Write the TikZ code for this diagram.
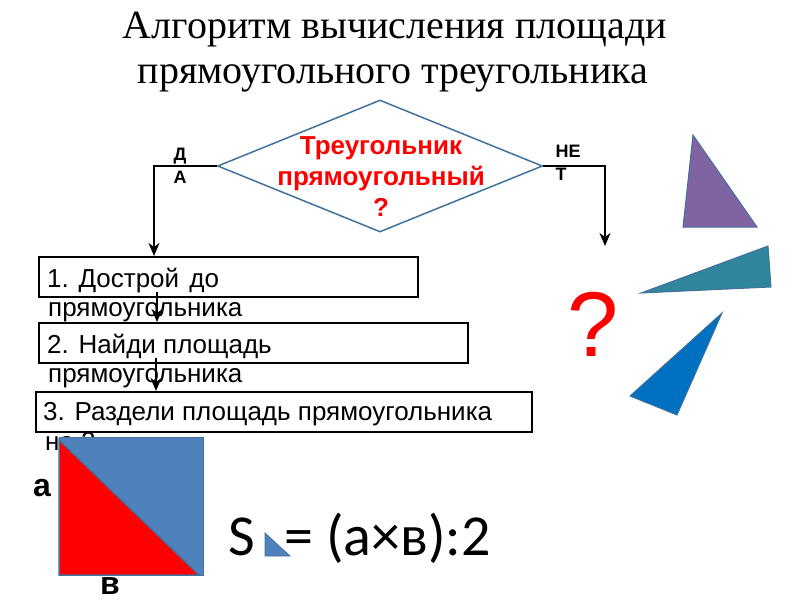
\documentclass[tikz,border=0pt]{standalone}
\usepackage{fontspec}
\setmainfont{Liberation Serif}
\newfontfamily\arialf{Liberation Sans}
\newfontfamily\calib{Carlito}
\usetikzlibrary{shapes.geometric,arrows.meta}
\definecolor{dborder}{RGB}{65,113,156}
\definecolor{sqblue}{RGB}{79,129,189}
\definecolor{tpurple}{RGB}{128,100,162}
\definecolor{tteal}{RGB}{49,133,156}
\definecolor{tblue}{RGB}{0,112,192}
\begin{document}
\begin{tikzpicture}[x=1pt,y=-1pt,
  arr/.style={line width=2pt,-{Stealth[length=13pt,width=11pt,inset=4pt]}},
  stepbox/.style={draw,line width=2pt,minimum height=40pt,inner sep=0pt},
  boxtxt/.style={font=\arialf\fontsize{26}{30}\selectfont,anchor=base west,inner sep=0pt},
  titletxt/.style={font=\fontsize{40}{45}\selectfont,anchor=base,inner sep=0pt},
  lbl/.style={font=\arialf\bfseries\fontsize{18}{23}\selectfont,align=center,inner sep=0pt},
  sidelbl/.style={font=\arialf\bfseries\fontsize{32}{36}\selectfont,anchor=base,inner sep=0pt},
  frm/.style={font=\calib\fontsize{58}{62}\selectfont,anchor=base west,inner sep=0pt},
  tri/.style={draw=dborder,line width=1pt}
]
\useasboundingbox (0,0) rectangle (800,600);
% title
\node[titletxt] (t1) at (395,38) {Алгоритм вычисления площади};
\node[titletxt] (t2) at (393,83) {прямоугольного треугольника};
% decision
\node[diamond,draw=dborder,line width=1.5pt,minimum width=325pt,minimum height=132pt,inner sep=0pt] (dec) at (380,166) {};
\node[font=\arialf\bfseries\fontsize{26}{31}\selectfont,text=red,align=center,inner sep=0pt] (q) at (381,177) {Треугольник\\прямоугольный\\?};
% boxes
\node[stepbox,minimum width=379pt] (box1) at (228.5,277) {};
\node[stepbox,minimum width=429pt] (box2) at (253.5,343) {};
\node[stepbox,minimum width=496pt] (box3) at (284,412) {};
\node[boxtxt] (b1a) at (47,287) {1. Дострой\hspace{3pt} до};
\node[boxtxt] (b1b) at (48,316) {прямоугольника};
\node[boxtxt] (b2a) at (47,353) {2. Найди площадь};
\node[boxtxt] (b2b) at (48,382) {прямоугольника};
\node[boxtxt] (b3a) at (43,420) {3. Раздели площадь прямоугольника};
\node[boxtxt] (b3b) at (45,450) {на 2};
% connectors
\draw[arr] (dec.west) -| ([xshift=116pt]box1.north west);
\coordinate (netend) at (605,246);
\draw[arr] (dec.east) -| (netend);
\draw[arr] ([xshift=119pt,yshift=6pt]box1.south west) -- ([xshift=119pt]box2.north west);
\draw[arr] ([xshift=118pt,yshift=6pt]box2.south west) -- ([xshift=121pt]box3.north west);
\node[lbl] (da) at (180,166) {Д\\А};
\node[lbl,align=left] (net) at (568,163) {НЕ\\Т};
% square
\fill[sqblue,draw=dborder,line width=1pt] (59,437) rectangle (203,575);
\filldraw[fill=red,draw=dborder,line width=1.5pt] (59,440) -- (59,575) -- (199,575) -- cycle;
\node[sidelbl] (la) at (42,496) {а};
\node[sidelbl] (lb) at (110,594) {в};
% formula
\node[frm] (fs) at (228,555) {S};
\filldraw[fill=sqblue,draw=dborder,line width=0.8pt] (265,533) -- (265,556) -- (290,556) -- cycle;
\node[frm] (fe) at (284,555) {= (а×в):2};
% question mark
\node[font=\arialf\fontsize{92}{96}\selectfont,text=red,inner sep=0pt] (qm) at (593,324) {?};
% triangles
\filldraw[fill=tpurple,tri] (693,135) -- (683,227) -- (757,227) -- cycle;
\filldraw[fill=tteal,tri] (641,293) -- (768,246) -- (771,287) -- cycle;
\filldraw[fill=tblue,tri] (722,313) -- (630,396) -- (677,415) -- cycle;
\end{tikzpicture}
\end{document}
